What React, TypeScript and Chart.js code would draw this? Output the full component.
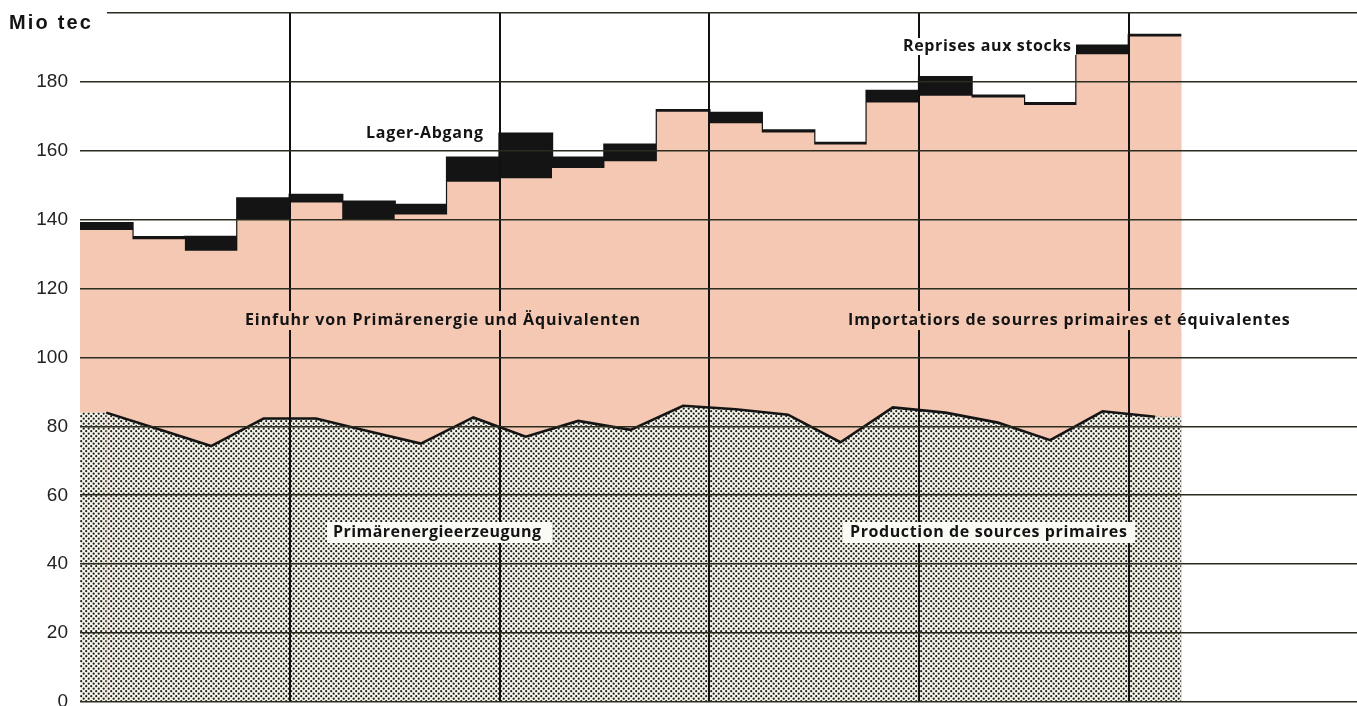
import React, { useEffect, useRef } from 'react';
import { Chart, registerables } from 'chart.js';

Chart.register(...registerables);

// Quarters shown (21 quarterly steps)
const quarters = [
  'Q1', 'Q2', 'Q3', 'Q4', 'Q5', 'Q6', 'Q7', 'Q8', 'Q9', 'Q10', 'Q11',
  'Q12', 'Q13', 'Q14', 'Q15', 'Q16', 'Q17', 'Q18', 'Q19', 'Q20', 'Q21',
];

// Primärenergieerzeugung / Production de sources primaires (Mio tec)
const production = [
  84, 79.2, 74.3, 82.3, 82.3, 78.6, 75, 82.6, 77, 81.6, 79,
  86, 85, 83.4, 75.4, 85.5, 84, 81.1, 76, 84.4, 82.8,
];

// Einfuhr von Primärenergie und Äquivalenten (Mio tec)
const imports = [
  53, 55.1, 56.7, 57.7, 62.7, 61.4, 66.5, 68.4, 75, 73.4, 78,
  85.3, 83, 81.9, 86.4, 88.5, 92, 94.4, 97.3, 103.6, 110.4,
];

// Lager-Abgang / Reprises aux stocks (Mio tec)
const stockWithdrawals = [
  2, 0.6, 4, 6.2, 2.2, 5.2, 2.8, 7, 13, 3, 4.8,
  0.5, 3, 0.6, 0.5, 3.4, 5.4, 0.5, 0.5, 2.5, 0.4,
];

const yTickValues = [0, 20, 40, 60, 80, 100, 120, 140, 160, 180];

const unitLabel = 'Mio tec';
const labelStockDe = 'Lager-Abgang';
const labelStockFr = 'Reprises aux stocks';
const labelImportDe = 'Einfuhr von Primärenergie und Äquivalenten';
const labelImportFr = 'Importatiors de sourres primaires et équivalentes';
const labelProdDe = 'Primärenergieerzeugung';
const labelProdFr = 'Production de sources primaires';

const PINK = '#f4c8b3';
const DOT_BG = '#f6f6ea';
const INK = '#141414';

function makeDotPattern(): CanvasPattern | string {
  const c = document.createElement('canvas');
  c.width = 5;
  c.height = 5;
  const g = c.getContext('2d');
  if (!g) return '#bbb';
  g.fillStyle = DOT_BG;
  g.fillRect(0, 0, 5, 5);
  g.fillStyle = '#1e1e1e';
  const dots = [
    [1.2, 1.2],
    [3.7, 3.7],
  ];
  for (const [x, y] of dots) {
    g.beginPath();
    g.arc(x, y, 1.1, 0, Math.PI * 2);
    g.fill();
  }
  const p = g.createPattern(c, 'repeat');
  return p || '#bbb';
}

function drawFitted(
  ctx: CanvasRenderingContext2D,
  text: string,
  left: number,
  cy: number,
  width: number,
  font: string,
  color: string,
) {
  ctx.save();
  ctx.font = font;
  (ctx as any).letterSpacing = '0px';
  const w = ctx.measureText(text).width;
  const n = Array.from(text).length;
  const ls = n > 1 ? (width - w) / (n - 1) : 0;
  (ctx as any).letterSpacing = `${ls.toFixed(2)}px`;
  ctx.fillStyle = color;
  ctx.textAlign = 'left';
  ctx.textBaseline = 'middle';
  ctx.fillText(text, left, cy);
  (ctx as any).letterSpacing = '0px';
  ctx.restore();
}

export default function App() {
  const canvasRef = useRef<HTMLCanvasElement | null>(null);

  useEffect(() => {
    const canvas = canvasRef.current;
    if (!canvas) return;

    const n = quarters.length;
    const importTop = production.map((p, i) => p + imports[i]);
    const total = importTop.map((t, i) => t + stockWithdrawals[i]);

    const stepData = (vals: number[]) => {
      const pts = vals.map((v, i) => ({ x: i, y: v }));
      pts.push({ x: n, y: vals[n - 1] });
      return pts;
    };
    const prodData = [
      { x: 0, y: production[0] },
      ...production.map((v, i) => ({ x: i + 0.5, y: v })),
      { x: n, y: production[n - 1] },
    ];
    const lastSeg = prodData.length - 1;

    const labelsPlugin = {
      id: 'labels',
      afterDraw(chart: any) {
        const ctx: CanvasRenderingContext2D = chart.ctx;
        const xs = chart.scales.x;
        const xEnd = xs.getPixelForValue(n);
        const boldFont = 'bold 16px "Open Sans", Lato, sans-serif';

        // unit label
        ctx.save();
        ctx.fillStyle = '#ffffff';
        ctx.fillRect(76, 9, 31, 9);
        ctx.restore();
        drawFitted(ctx, unitLabel, 9, 23, 82, 'bold 20px "Liberation Sans", Arial, sans-serif', INK);

        const box = (x0: number, x1: number, y0: number, y1: number, color: string) => {
          ctx.save();
          ctx.fillStyle = color;
          ctx.fillRect(x0, y0, x1 - x0, y1 - y0);
          ctx.restore();
        };

        // stock labels (white area)
        box(360, 490, 125, 142, '#ffffff');
        drawFitted(ctx, labelStockDe, 366, 133.5, 117, boldFont, INK);
        box(897, 1076, 38, 55, '#ffffff');
        drawFitted(ctx, labelStockFr, 903, 46, 168, boldFont, INK);

        // import labels (pink area)
        box(240, 645, 311, 330, PINK);
        drawFitted(ctx, labelImportDe, 245, 320, 395, boldFont, INK);
        box(843, xEnd, 311, 330, PINK);
        box(xEnd, 1296, 311, 330, '#ffffff');
        drawFitted(ctx, labelImportFr, 848, 320, 442, boldFont, INK);

        // production labels (dotted area)
        box(327, 552, 522, 543, '#fbfbf6');
        drawFitted(ctx, labelProdDe, 333, 532, 208, boldFont, INK);
        box(843, 1135, 522, 543, '#fbfbf6');
        drawFitted(ctx, labelProdFr, 850, 532, 277, boldFont, INK);
      },
    };

    const chart = new Chart(canvas, {
      type: 'line',
      data: {
        datasets: [
          {
            label: labelProdDe,
            data: prodData,
            borderColor: INK,
            borderWidth: 2.6,
            backgroundColor: makeDotPattern() as any,
            fill: 'origin',
            pointRadius: 0,
            tension: 0,
            segment: {
              borderColor: (c: any) =>
                c.p0DataIndex === 0 || c.p1DataIndex === lastSeg ? 'rgba(0,0,0,0)' : INK,
            },
          },
          {
            label: labelImportDe,
            data: stepData(importTop),
            stepped: 'before',
            borderWidth: 0,
            borderColor: 'rgba(0,0,0,0)',
            backgroundColor: PINK,
            fill: 'origin',
            pointRadius: 0,
          },
          {
            label: labelStockDe,
            data: stepData(total),
            stepped: 'before',
            borderWidth: 2.4,
            borderColor: INK,
            backgroundColor: INK,
            fill: 'origin',
            pointRadius: 0,
          },
        ],
      } as any,
      options: {
        animation: false,
        responsive: false,
        maintainAspectRatio: false,
        events: [],
        layout: { padding: { top: 13, right: 0, bottom: 0, left: 0 } },
        plugins: {
          legend: { display: false },
          tooltip: { enabled: false },
          title: { display: false },
        },
        scales: {
          x: {
            type: 'linear',
            min: 0,
            max: 24.35,
            border: { display: false },
            ticks: { display: false, stepSize: 4 },
            grid: {
              z: 1,
              drawTicks: false,
              lineWidth: 2,
              color: (c: any) => {
                const v = c.tick ? c.tick.value : 0;
                return v > 0 && Math.abs(v % 4) < 1e-6 ? '#111111' : 'rgba(0,0,0,0)';
              },
            },
            afterFit: (s: any) => {
              s.height = 4;
              s.paddingLeft = 0;
              s.paddingRight = 0;
            },
          },
          y: {
            type: 'linear',
            min: 0,
            max: 200,
            border: { display: false },
            ticks: {
              stepSize: 20,
              padding: 12,
              color: '#222222',
              font: { family: '"Liberation Sans", Arial, sans-serif', size: 19 },
              callback: (v: any) => (yTickValues.includes(Number(v)) ? String(v) : ''),
            },
            grid: {
              z: 1,
              drawTicks: false,
              lineWidth: 1.6,
              color: '#2b2b1e',
            },
            afterFit: (s: any) => {
              s.width = 80;
              s.paddingTop = 0;
              s.paddingBottom = 0;
            },
          },
        },
      } as any,
      plugins: [labelsPlugin],
    });

    return () => {
      chart.destroy();
    };
  }, []);

  return (
    <div style={{ position: 'fixed', left: 0, top: 0, width: 1357, height: 706, background: '#ffffff' }}>
      <canvas ref={canvasRef} width={1357} height={706} style={{ display: 'block' }} />
    </div>
  );
}
